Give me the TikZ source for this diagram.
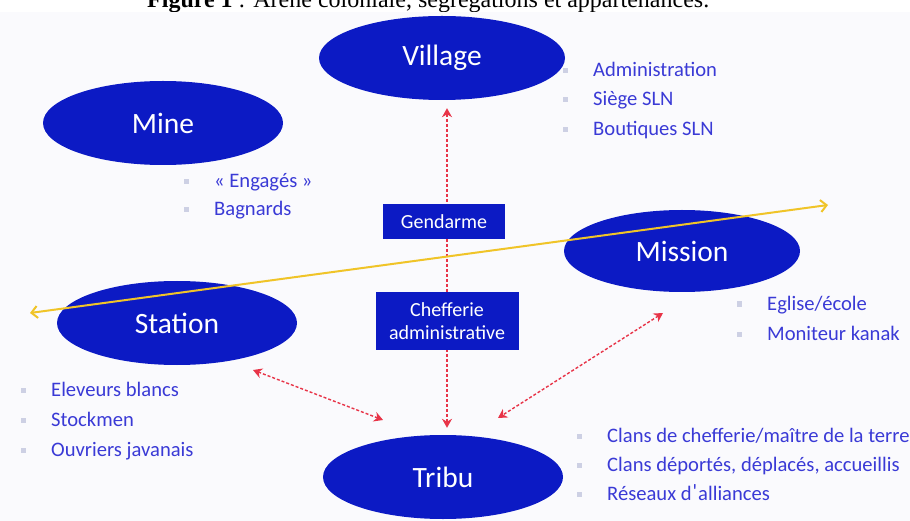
\documentclass[tikz,border=0pt]{standalone}
\usepackage{fontspec}
\setmainfont{Liberation Serif}
\newfontfamily\carlito{Carlito}
\usetikzlibrary{shapes.geometric,arrows.meta,calc}
\definecolor{ellblue}{RGB}{12,26,196}
\definecolor{listblue}{RGB}{58,58,214}
\definecolor{bulgray}{RGB}{205,208,228}
\definecolor{redarr}{RGB}{232,52,72}
\definecolor{yel}{RGB}{240,196,40}
\definecolor{bgc}{RGB}{250,250,253}
\newcommand{\listitem}[4]{%
  \node[bul] (#4b) at (#1-28,#2-6) {};
  \node[item] (#4) at (#1,#2) {#3};}
\begin{document}
\begin{tikzpicture}[x=1pt,y=-1pt,
  place/.style={ellipse, fill=ellblue, text=white, inner sep=0pt, font=\carlito\fontsize{29.5}{32}\selectfont},
  role/.style={rectangle, fill=ellblue, text=white, font=\carlito\fontsize{20}{23}\selectfont, align=center, inner sep=0pt},
  item/.style={anchor=base west, text=listblue, font=\carlito\fontsize{20.6}{24}\selectfont, inner sep=0pt},
  bul/.style={rectangle, fill=bulgray, minimum size=5pt, inner sep=0pt},
  link/.style={draw=redarr, line width=1.4pt, dash pattern=on 3pt off 2pt, {Stealth[length=9pt,width=10pt]}-{Stealth[length=9pt,width=10pt]}},
  axisline/.style={draw=yel, line width=2pt, {Straight Barb[length=6pt,width=12pt]}-{Straight Barb[length=6pt,width=12pt]}}
]
\useasboundingbox (0,0) rectangle (910,521);
\begin{scope}
  \clip (0,0) rectangle (910,12);
  \node[anchor=base west, inner sep=0pt, font=\fontsize{24}{26}\selectfont] (cap) at (147,8) {\textbf{Figure 1} : Arène coloniale, ségrégations et appartenances.};
\end{scope}
\fill[bgc] (0,12) rectangle (910,521);

% places
\node[place, minimum width=246pt, minimum height=84pt] (village) at (442,58) {Village};
\node[place, minimum width=240pt, minimum height=84pt] (mine) at (163,123) {Mine};
\node[place, minimum width=236pt, minimum height=82pt] (mission) at (682,251) {Mission};
\node[place, minimum width=240pt, minimum height=84pt] (station) at (177,323) {Station};
\node[place, minimum width=240pt, minimum height=84pt] (tribu) at (443,477) {Tribu};

% red links
\draw[link] ($(village.south)+(5,8)$) -- ($(tribu.north)+(4,-7)$);
\draw[link] ($(station.center)+(76,47)$) -- ($(tribu.center)+(-60,-57)$);
\draw[link] ($(mission.center)+(-19,62)$) -- ($(tribu.center)+(55,-59)$);

% role boxes
\node[role, minimum width=122pt, minimum height=35pt] (gend) at (444,222) {Gendarme};
\node[role, minimum width=143pt, minimum height=58pt] (chef) at (447,321) {Chefferie\\administrative};

% yellow axis
\coordinate (axw) at (30,313);
\coordinate (axe) at (828,205);
\draw[axisline] (axw) -- (axe);

% lists
\listitem{593}{77}{Administration}{v1}
\listitem{593}{106}{Siège SLN}{v2}
\listitem{593}{136}{Boutiques SLN}{v3}
\listitem{214}{188}{« Engagés »}{m1}
\listitem{214}{216}{Bagnards}{m2}
\listitem{767}{310}{Eglise/école}{s1}
\listitem{767}{340}{Moniteur kanak}{s2}
\listitem{51}{396}{Eleveurs blancs}{t1}
\listitem{51}{426}{Stockmen}{t2}
\listitem{51}{456}{Ouvriers javanais}{t3}
\listitem{607}{442}{Clans de chefferie/maître de la terre}{r1}
\listitem{607}{471}{Clans déportés, déplacés, accueillis}{r2}
\listitem{607}{500}{Réseaux d\kern1pt\raisebox{2pt}{\textquotesingle}\kern1pt alliances}{r3}
\end{tikzpicture}
\end{document}
